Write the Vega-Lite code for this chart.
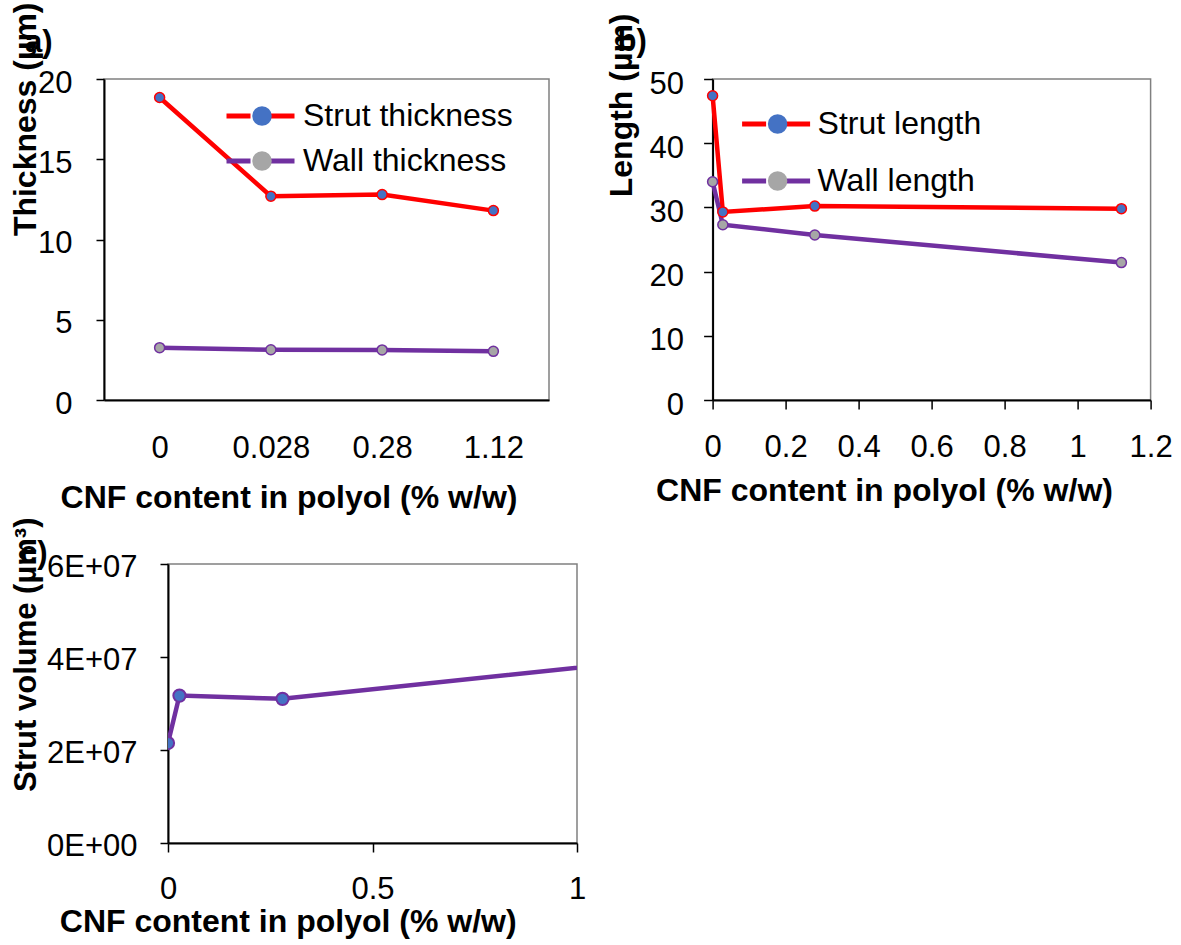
{
  "$schema": "https://vega.github.io/schema/vega-lite/v6.json",
  "background": "white",
  "padding": {"left": 8, "top": 1, "right": 5, "bottom": 5},
  "config": {
    "font": "Liberation Sans",
    "view": {"stroke": "#808080", "strokeWidth": 1.5},
    "axis": {"labelFont": "Liberation Sans", "labelFontSize": 31, "labelColor": "#000", "titleFont": "Liberation Sans", "titleFontSize": 32, "titleFontWeight": "bold", "titleColor": "#000", "domainColor": "#000", "domainWidth": 2, "tickColor": "#000", "tickWidth": 1.5, "grid": false},
    "legend": {"labelFont": "Liberation Sans", "labelFontSize": 32, "labelColor": "#000", "labelLimit": 500, "padding": 0, "title": null}
  },
  "datasets": {
    "a": [
      {"x": "0", "series": "Strut thickness", "marker": "Strut thickness", "value": 18.85},
      {"x": "0.028", "series": "Strut thickness", "marker": "Strut thickness", "value": 12.7},
      {"x": "0.28", "series": "Strut thickness", "marker": "Strut thickness", "value": 12.8},
      {"x": "1.12", "series": "Strut thickness", "marker": "Strut thickness", "value": 11.8},
      {"x": "0", "series": "Wall thickness", "marker": "Wall thickness", "value": 3.26},
      {"x": "0.028", "series": "Wall thickness", "marker": "Wall thickness", "value": 3.13},
      {"x": "0.28", "series": "Wall thickness", "marker": "Wall thickness", "value": 3.12},
      {"x": "1.12", "series": "Wall thickness", "marker": "Wall thickness", "value": 3.03}
    ],
    "b": [
      {"x": 0, "series": "Strut length", "marker": "Strut length", "value": 47.4},
      {"x": 0.028, "series": "Strut length", "marker": "Strut length", "value": 29.3},
      {"x": 0.28, "series": "Strut length", "marker": "Strut length", "value": 30.2},
      {"x": 1.12, "series": "Strut length", "marker": "Strut length", "value": 29.8},
      {"x": 0, "series": "Wall length", "marker": "Wall length", "value": 34.0},
      {"x": 0.028, "series": "Wall length", "marker": "Wall length", "value": 27.3},
      {"x": 0.28, "series": "Wall length", "marker": "Wall length", "value": 25.7},
      {"x": 1.12, "series": "Wall length", "marker": "Wall length", "value": 21.4}
    ],
    "c": [
      {"x": 0, "value": 21500000},
      {"x": 0.028, "value": 31700000},
      {"x": 0.28, "value": 31000000},
      {"x": 1.12, "value": 38800000}
    ]
  },
  "spacing": 2,
  "vconcat": [
    {
      "hconcat": [
        {
          "width": 445,
          "height": 321,
          "data": {"name": "a"},
          "title": {"text": "a)", "anchor": "start", "frame": "group", "orient": "top", "offset": -81, "dx": -79, "baseline": "alphabetic", "fontSize": 31, "fontWeight": "bold", "color": "#000", "font": "Liberation Sans"},
          "encoding": {
            "x": {"field": "x", "type": "ordinal", "scale": {"type": "point", "padding": 0.5}, "axis": {"title": "CNF content in polyol (% w/w)", "labelAngle": 0, "ticks": false, "labelPadding": 33, "titleX": 184.5, "titleY": 107, "titleBaseline": "alphabetic"}},
            "y": {"field": "value", "type": "quantitative", "scale": {"domain": [0, 20]}, "axis": {"values": [0, 5, 10, 15, 20], "title": "Thickness (µm)", "tickSize": 8, "labelPadding": 24, "labelOffset": 4, "titleX": -69, "titleY": -77, "titleAlign": "right", "titleBaseline": "alphabetic", "titleAngle": 270}}
          },
          "layer": [
            {
              "mark": {"type": "line", "strokeWidth": 4.5},
              "encoding": {"stroke": {"field": "series", "type": "nominal", "scale": {"range": ["#FF0000", "#7030A0"]},
                "legend": {"orient": "none", "legendX": 140.5, "legendY": 21, "symbolType": "M -3.4 0 L -1 0 M 1 0 L 3.4 0", "symbolSize": 400, "symbolStrokeWidth": 5, "symbolFillColor": "transparent", "labelOffset": 26.5, "rowPadding": 13}}}
            },
            {
              "mark": {"type": "point", "filled": true, "size": 100, "strokeWidth": 1.5, "opacity": 1},
              "encoding": {
                "stroke": {"field": "series", "type": "nominal",
                  "legend": {"orient": "none", "legendX": 140.5, "legendY": 21, "symbolType": "M -3.4 0 L -1 0 M 1 0 L 3.4 0", "symbolSize": 400, "symbolStrokeWidth": 5, "symbolFillColor": "transparent", "labelOffset": 26.5, "rowPadding": 13}},
                "fill": {"field": "marker", "type": "nominal", "scale": {"range": ["#4472C4", "#A6A6A6"]},
                  "legend": {"orient": "none", "legendX": 142, "legendY": 21, "symbolType": "circle", "symbolSize": 380, "symbolStrokeWidth": 2, "labelOpacity": 0, "rowPadding": 13,
                    "encode": {"symbols": {"update": {"stroke": {"signal": "datum.value === 'Strut thickness' ? '#FF0000' : '#7030A0'"}}}}}}
              }
            }
          ]
        },
        {
          "width": 438,
          "height": 321,
          "data": {"name": "b"},
          "title": {"text": "b)", "anchor": "start", "frame": "group", "orient": "top", "offset": -69, "dx": -95, "baseline": "alphabetic", "fontSize": 31, "fontWeight": "bold", "color": "#000", "font": "Liberation Sans"},
          "encoding": {
            "x": {"field": "x", "type": "quantitative", "scale": {"domain": [0, 1.2], "nice": false}, "axis": {"values": [0, 0.2, 0.4, 0.6, 0.8, 1, 1.2], "format": "~g", "title": "CNF content in polyol (% w/w)", "tickSize": 9, "labelPadding": 23, "labelFlush": false, "titleX": 171.4, "titleY": 100, "titleBaseline": "alphabetic"}},
            "y": {"field": "value", "type": "quantitative", "scale": {"domain": [0, 50]}, "axis": {"values": [0, 10, 20, 30, 40, 50], "title": "Length (µm)", "tickSize": 9, "labelPadding": 20, "labelOffset": 5, "titleX": -81, "titleY": -66, "titleAlign": "right", "titleBaseline": "alphabetic", "titleAngle": 270}}
          },
          "layer": [
            {
              "mark": {"type": "line", "strokeWidth": 4.5},
              "encoding": {"stroke": {"field": "series", "type": "nominal", "scale": {"range": ["#FF0000", "#7030A0"]},
                "legend": {"orient": "none", "legendX": 47.5, "legendY": 29, "symbolType": "M -3.4 0 L -1 0 M 1 0 L 3.4 0", "symbolSize": 400, "symbolStrokeWidth": 5, "symbolFillColor": "transparent", "labelOffset": 25.5, "rowPadding": 25}}}
            },
            {
              "mark": {"type": "point", "filled": true, "size": 100, "strokeWidth": 1.5, "opacity": 1},
              "encoding": {
                "stroke": {"field": "series", "type": "nominal",
                  "legend": {"orient": "none", "legendX": 47.5, "legendY": 29, "symbolType": "M -3.4 0 L -1 0 M 1 0 L 3.4 0", "symbolSize": 400, "symbolStrokeWidth": 5, "symbolFillColor": "transparent", "labelOffset": 25.5, "rowPadding": 25}},
                "fill": {"field": "marker", "type": "nominal", "scale": {"range": ["#4472C4", "#A6A6A6"]},
                  "legend": {"orient": "none", "legendX": 49, "legendY": 29, "symbolType": "circle", "symbolSize": 380, "symbolStrokeWidth": 2, "labelOpacity": 0, "rowPadding": 25,
                    "encode": {"symbols": {"update": {"stroke": {"signal": "datum.value === 'Strut length' ? '#FF0000' : '#7030A0'"}}}}}}
              }
            }
          ]
        }
      ],
      "spacing": 163.6,
      "bounds": "flush",
      "center": true,
      "resolve": {"scale": {"stroke": "independent", "fill": "independent"}, "legend": {"stroke": "independent", "fill": "independent"}}
    },
    {
      "hconcat": [
        {
          "width": 1,
          "height": 1,
          "data": {"values": []},
          "mark": "point",
          "view": {"stroke": null}
        },
        {
          "width": 409,
          "height": 279,
          "data": {"name": "c"},
          "title": {"text": "c)", "anchor": "start", "frame": "group", "orient": "top", "offset": -77, "dx": -148, "baseline": "alphabetic", "fontSize": 31, "fontWeight": "bold", "color": "#000", "font": "Liberation Sans"},
          "encoding": {
            "x": {"field": "x", "type": "quantitative", "scale": {"domain": [0, 1], "nice": false}, "axis": {"values": [0, 0.5, 1], "format": "~g", "title": "CNF content in polyol (% w/w)", "tickSize": 9, "labelPadding": 22, "labelFlush": false, "titleX": 119.7, "titleY": 88, "titleBaseline": "alphabetic"}},
            "y": {"field": "value", "type": "quantitative", "scale": {"domain": [0, 60000000]}, "axis": {"values": [0, 20000000, 40000000, 60000000], "labelExpr": "(datum.value/10000000) + 'E+' + (datum.value == 0 ? '00' : '07')", "title": "Strut volume (µm³)", "titleFontSize": 31, "tickSize": 8, "labelPadding": 23, "labelOffset": 3, "titleX": -133, "titleY": -47, "titleAlign": "right", "titleBaseline": "alphabetic", "titleAngle": 270}}
          },
          "layer": [
            {"mark": {"type": "line", "strokeWidth": 4.5, "color": "#7030A0", "clip": true}},
            {"mark": {"type": "point", "filled": true, "size": 150, "fill": "#4472C4", "stroke": "#7030A0", "strokeWidth": 2, "opacity": 1, "clip": true}}
          ]
        }
      ],
      "spacing": 63,
      "bounds": "flush"
    }
  ]
}
